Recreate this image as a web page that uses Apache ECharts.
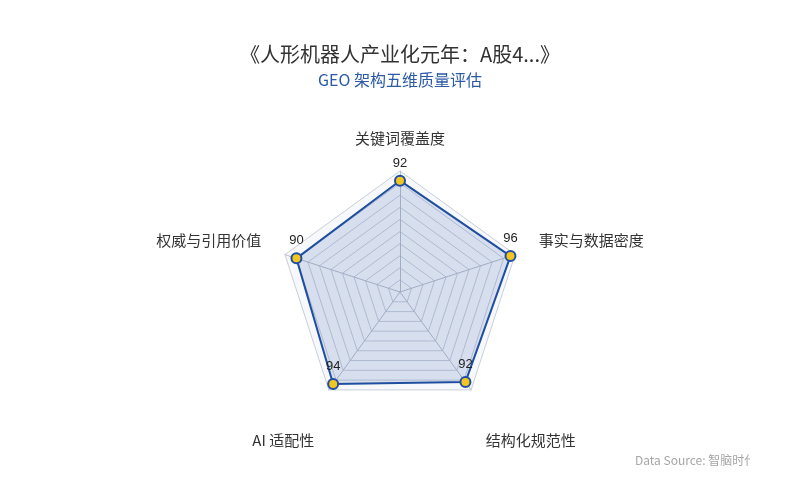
<!DOCTYPE html>
<html>
<head>
<meta charset="utf-8">
<script src="https://cdn.jsdelivr.net/npm/echarts@6/dist/echarts.min.js"></script>
<style>
html,body{margin:0;padding:0;background:#fff;}
#chart{width:800px;height:500px;}
</style>
</head>
<body>
<div id="chart"></div>
<script>
// Indicators in ECharts order (counter-clockwise from top)
var indicatorNames = ['关键词覆盖度', '权威与引用价值', 'AI 适配性', '结构化规范性', '事实与数据密度'];
var indicatorMax = [100, 100, 100, 100, 100];
var scores = [92, 90, 94, 92, 96];
var titleText = '《人形机器人产业化元年：A股4...》';
var subtitleText = 'GEO 架构五维质量评估';
var sourceText = 'Data Source: 智脑时代';

var namePlacement = { '权威与引用价值': 'up', '事实与数据密度': 'up', 'AI 适配性': 'lo', '结构化规范性': 'lo' };

var chart = echarts.init(document.getElementById('chart'));
var FONT = '"Noto Sans CJK SC", "Noto Sans", sans-serif';
chart.setOption({
  backgroundColor: '#fff',
  title: {
    text: titleText,
    subtext: subtitleText,
    left: 'center',
    top: 39,
    itemGap: 8,
    textStyle: { fontSize: 20, fontWeight: 'normal', color: '#333', fontFamily: FONT },
    subtextStyle: { fontSize: 16, color: '#2b5aa6', fontFamily: FONT }
  },
  radar: {
    center: [400, 292],
    radius: 121,
    splitNumber: 10,
    nameGap: 25,
    indicator: indicatorNames.map(function (n, i) { return { name: n, max: indicatorMax[i] }; }),
    axisName: {
      color: '#333', fontSize: 15, fontFamily: FONT,
      formatter: function (name) {
        var p = namePlacement[name];
        return p ? '{' + p + '|' + name + '}' : name;
      },
      rich: {
        up: { fontSize: 15, color: '#333', fontFamily: FONT, padding: [0, 0, 14, 0] },
        lo: { fontSize: 15, color: '#333', fontFamily: FONT, padding: [60, 0, 0, 0] }
      }
    },
    axisLine: { lineStyle: { color: '#b8bfcc' } },
    splitLine: { lineStyle: { color: ['#c8cfdb'], width: 1 } },
    splitArea: { show: true, areaStyle: { color: ['#f7f8fb'] } }
  },
  series: [{
    type: 'radar',
    symbol: 'circle',
    symbolSize: 10,
    lineStyle: { color: '#1f4fa0', width: 2 },
    itemStyle: { color: '#f2c521', borderColor: '#1f4fa0', borderWidth: 2 },
    areaStyle: { color: 'rgba(40,80,165,0.22)' },
    label: { show: true, color: '#222', fontSize: 13, fontFamily: '"Liberation Sans", Arial, sans-serif', distance: 5 },
    data: [{ value: scores, name: 'GEO' }]
  }],
  graphic: [
    { type: 'text', left: 635, top: 454, style: { text: sourceText, fill: '#a6a6a6', font: '12px ' + FONT } },
    { type: 'rect', left: 750, top: 450, shape: { width: 50, height: 24 }, style: { fill: '#fff' } }
  ]
});
</script>
</body>
</html>
